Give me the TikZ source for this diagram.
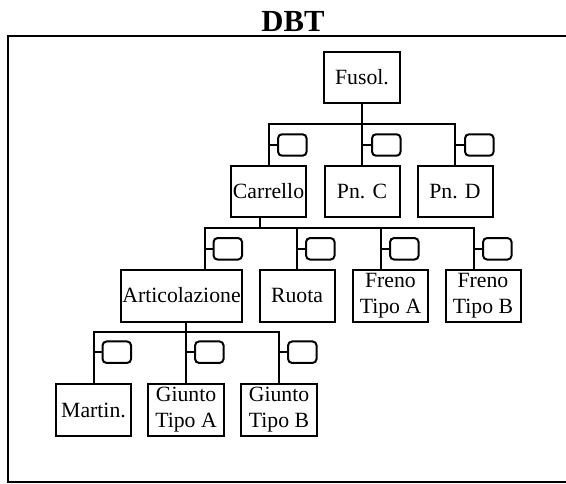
\documentclass[tikz,border=0pt]{standalone}
\usepackage{fontspec}
\setmainfont{Liberation Serif}
\begin{document}
\begin{tikzpicture}[x=0.75pt,y=-0.75pt,
  ln/.style={line width=1.5pt},
  box/.style={draw,line width=1.5pt,inner sep=0pt,align=center,
    font=\fontsize{16.3}{19.5}\selectfont,minimum height=38.5pt,minimum width=#1},
  box/.default=56.25pt,
  sbox/.style={draw,line width=1.5pt,rounded corners=3pt,inner sep=0pt,
    minimum width=21.4pt,minimum height=16.1pt}]
\useasboundingbox (0,0) rectangle (566,484);
\clip (0,0) rectangle (566,484);
\node[font=\bfseries\fontsize{23}{26}\selectfont,anchor=base] (title) at (293,32) {DBT};
\draw[ln] (580,36) -- (8,36) -- (8,482) -- (580,482);
% level 0
\node[box=57pt] (fusol) at (362,77.5) {Fusol.};
% level 1
\node[box] (carrello) at (268.5,191.2) {Carrello};
\node[box] (pnc) at (362,191.2) {Pn. C};
\node[box] (pnd) at (455,191.2) {Pn. D};
% level 2
\node[box=90.75pt,minimum height=39pt] (artic) at (181.5,295.5) {Articolazione};
\node[box,minimum height=39pt] (ruota) at (297,295.5) {Ruota};
\node[box,minimum height=39pt] (frenoA) at (390.5,295.5) {Freno\\Tipo A};
\node[box,minimum height=39pt] (frenoB) at (483,295.5) {Freno\\Tipo B};
% level 3
\node[box=56.5pt,minimum height=39pt] (martin) at (93.5,410) {Martin.};
\node[box=56.5pt,minimum height=39pt] (giuntoA) at (186,410) {Giunto\\Tipo A};
\node[box=56.5pt,minimum height=39pt] (giuntoB) at (279,410) {Giunto\\Tipo B};
% tree connectors level 0 -> 1
\draw[ln] (fusol.south) -- (fusol.south |- 0,124.3) -| (carrello.north);
\draw[ln] (fusol.south) -- (pnc.north);
\draw[ln] (fusol.south) -- (fusol.south |- 0,124.3) -| (pnd.north);
% level 1 -> 2
\draw[ln] (carrello.south -| 260,0) -- (260,228.3) -| (artic.north -| 204.5,0);
\draw[ln] (carrello.south -| 260,0) -- (260,228.3) -| (ruota.north);
\draw[ln] (carrello.south -| 260,0) -- (260,228.3) -| (frenoA.north -| 381,0);
\draw[ln] (carrello.south -| 260,0) -- (260,228.3) -| (frenoB.north -| 474,0);
% level 2 -> 3
\draw[ln] (artic.south -| 186,0) -- (186,331.7) -| (martin.north);
\draw[ln] (artic.south -| 186,0) -- (giuntoA.north);
\draw[ln] (artic.south -| 186,0) -- (186,331.7) -| (giuntoB.north);
% small boxes level 1
\node[sbox] (s1a) at (292.3,145) {};
\node[sbox] (s1b) at (386.3,145) {};
\node[sbox] (s1c) at (479.3,145) {};
\draw[ln] (s1a.west) -- (s1a.west -| carrello.north);
\draw[ln] (s1b.west) -- (s1b.west -| pnc.north);
\draw[ln] (s1c.west) -- (s1c.west -| pnd.north);
% small boxes level 2
\node[sbox] (s2a) at (227.8,248.8) {};
\node[sbox] (s2b) at (320.3,248.8) {};
\node[sbox] (s2c) at (404.3,248.8) {};
\node[sbox] (s2d) at (497.3,248.8) {};
\draw[ln] (s2a.west) -- (s2a.west -| 204.5,0);
\draw[ln] (s2b.west) -- (s2b.west -| ruota.north);
\draw[ln] (s2c.west) -- (s2c.west -| 381,0);
\draw[ln] (s2d.west) -- (s2d.west -| 474,0);
% small boxes level 3
\node[sbox] (s3a) at (116.8,352.2) {};
\node[sbox] (s3b) at (209.3,352.2) {};
\node[sbox] (s3c) at (302.3,352.2) {};
\draw[ln] (s3a.west) -- (s3a.west -| martin.north);
\draw[ln] (s3b.west) -- (s3b.west -| giuntoA.north);
\draw[ln] (s3c.west) -- (s3c.west -| giuntoB.north);
\end{tikzpicture}
\end{document}
